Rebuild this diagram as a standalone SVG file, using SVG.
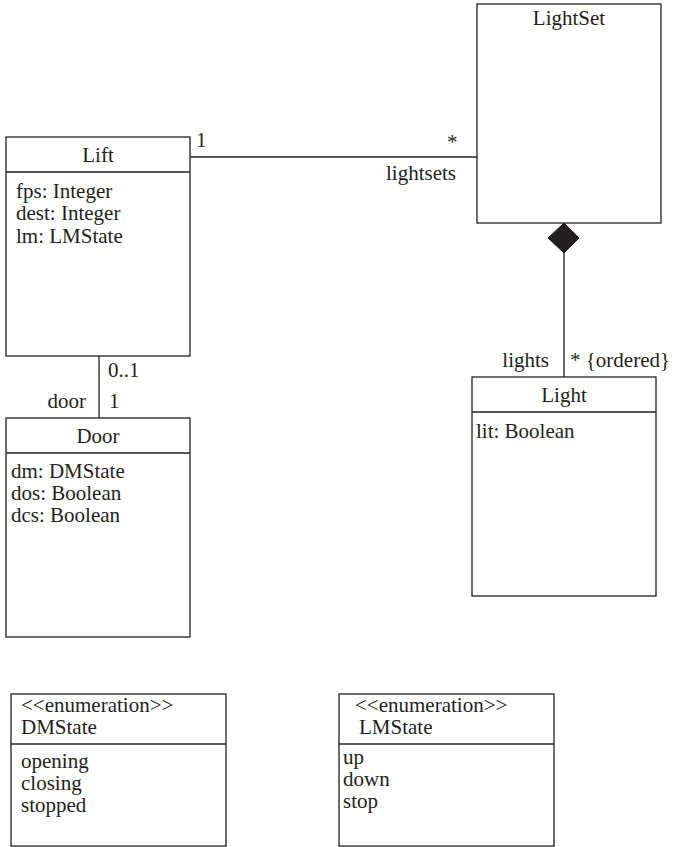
<svg xmlns="http://www.w3.org/2000/svg" width="674" height="847" viewBox="0 0 674 847" font-family="'Liberation Serif', serif" font-size="21">
  <style>
    .box { fill: #ffffff; stroke: #231f20; stroke-width: 1.3; }
    .sep { stroke: #231f20; stroke-width: 1.3; }
    .conn { stroke: #231f20; stroke-width: 1.3; fill: none; }
    text { font-family: 'Liberation Serif', serif; font-size: 21px; fill: #231f20; }
    .c { text-anchor: middle; }
    .r { text-anchor: end; }
  </style>
  <rect width="674" height="847" fill="#ffffff"/>

  <!-- associations -->
  <g id="connectors">
    <line class="conn" x1="190" y1="157" x2="477" y2="157"/>
    <line class="conn" x1="99" y1="356" x2="99" y2="418"/>
    <line class="conn" x1="564" y1="253" x2="564" y2="377"/>
    <polygon points="564,223 579,238 564,253 548,238" fill="#231f20" stroke="#231f20" stroke-width="1"/>
    <text x="196" y="147">1</text>
    <text x="447" y="149">*</text>
    <text class="r" x="456" y="180">lightsets</text>
    <text x="108" y="377">0..1</text>
    <text class="r" x="86" y="408">door</text>
    <text x="109" y="408">1</text>
    <text class="r" x="549" y="367">lights</text>
    <text x="570" y="367">* {ordered}</text>
  </g>

  <g id="lift">
    <rect class="box" x="6" y="137" width="184" height="219"/>
    <line class="sep" x1="6" y1="172" x2="190" y2="172"/>
    <text class="c" x="98" y="162">Lift</text>
    <text x="16" y="198">fps: Integer</text>
    <text x="16" y="220">dest: Integer</text>
    <text x="16" y="243">lm: LMState</text>
  </g>

  <g id="lightset">
    <rect class="box" x="477" y="4" width="184" height="219"/>
    <text class="c" x="569" y="25">LightSet</text>
  </g>

  <g id="door">
    <rect class="box" x="6" y="418" width="184" height="219"/>
    <line class="sep" x1="6" y1="453" x2="190" y2="453"/>
    <text class="c" x="98" y="443">Door</text>
    <text x="11" y="478">dm: DMState</text>
    <text x="11" y="500">dos: Boolean</text>
    <text x="11" y="522">dcs: Boolean</text>
  </g>

  <g id="light">
    <rect class="box" x="472" y="377" width="184" height="219"/>
    <line class="sep" x1="472" y1="412" x2="656" y2="412"/>
    <text class="c" x="564" y="402">Light</text>
    <text x="476" y="438">lit: Boolean</text>
  </g>

  <g id="dmstate">
    <rect class="box" x="11" y="694" width="215" height="152"/>
    <line class="sep" x1="11" y1="744" x2="226" y2="744"/>
    <text x="21" y="712">&lt;&lt;enumeration&gt;&gt;</text>
    <text x="21" y="734">DMState</text>
    <text x="21" y="768">opening</text>
    <text x="21" y="790">closing</text>
    <text x="21" y="812">stopped</text>
  </g>

  <g id="lmstate">
    <rect class="box" x="339" y="694" width="215" height="152"/>
    <line class="sep" x1="339" y1="744" x2="554" y2="744"/>
    <text x="355" y="712">&lt;&lt;enumeration&gt;&gt;</text>
    <text x="359" y="734">LMState</text>
    <text x="343" y="764">up</text>
    <text x="343" y="786">down</text>
    <text x="343" y="808">stop</text>
  </g>
</svg>
